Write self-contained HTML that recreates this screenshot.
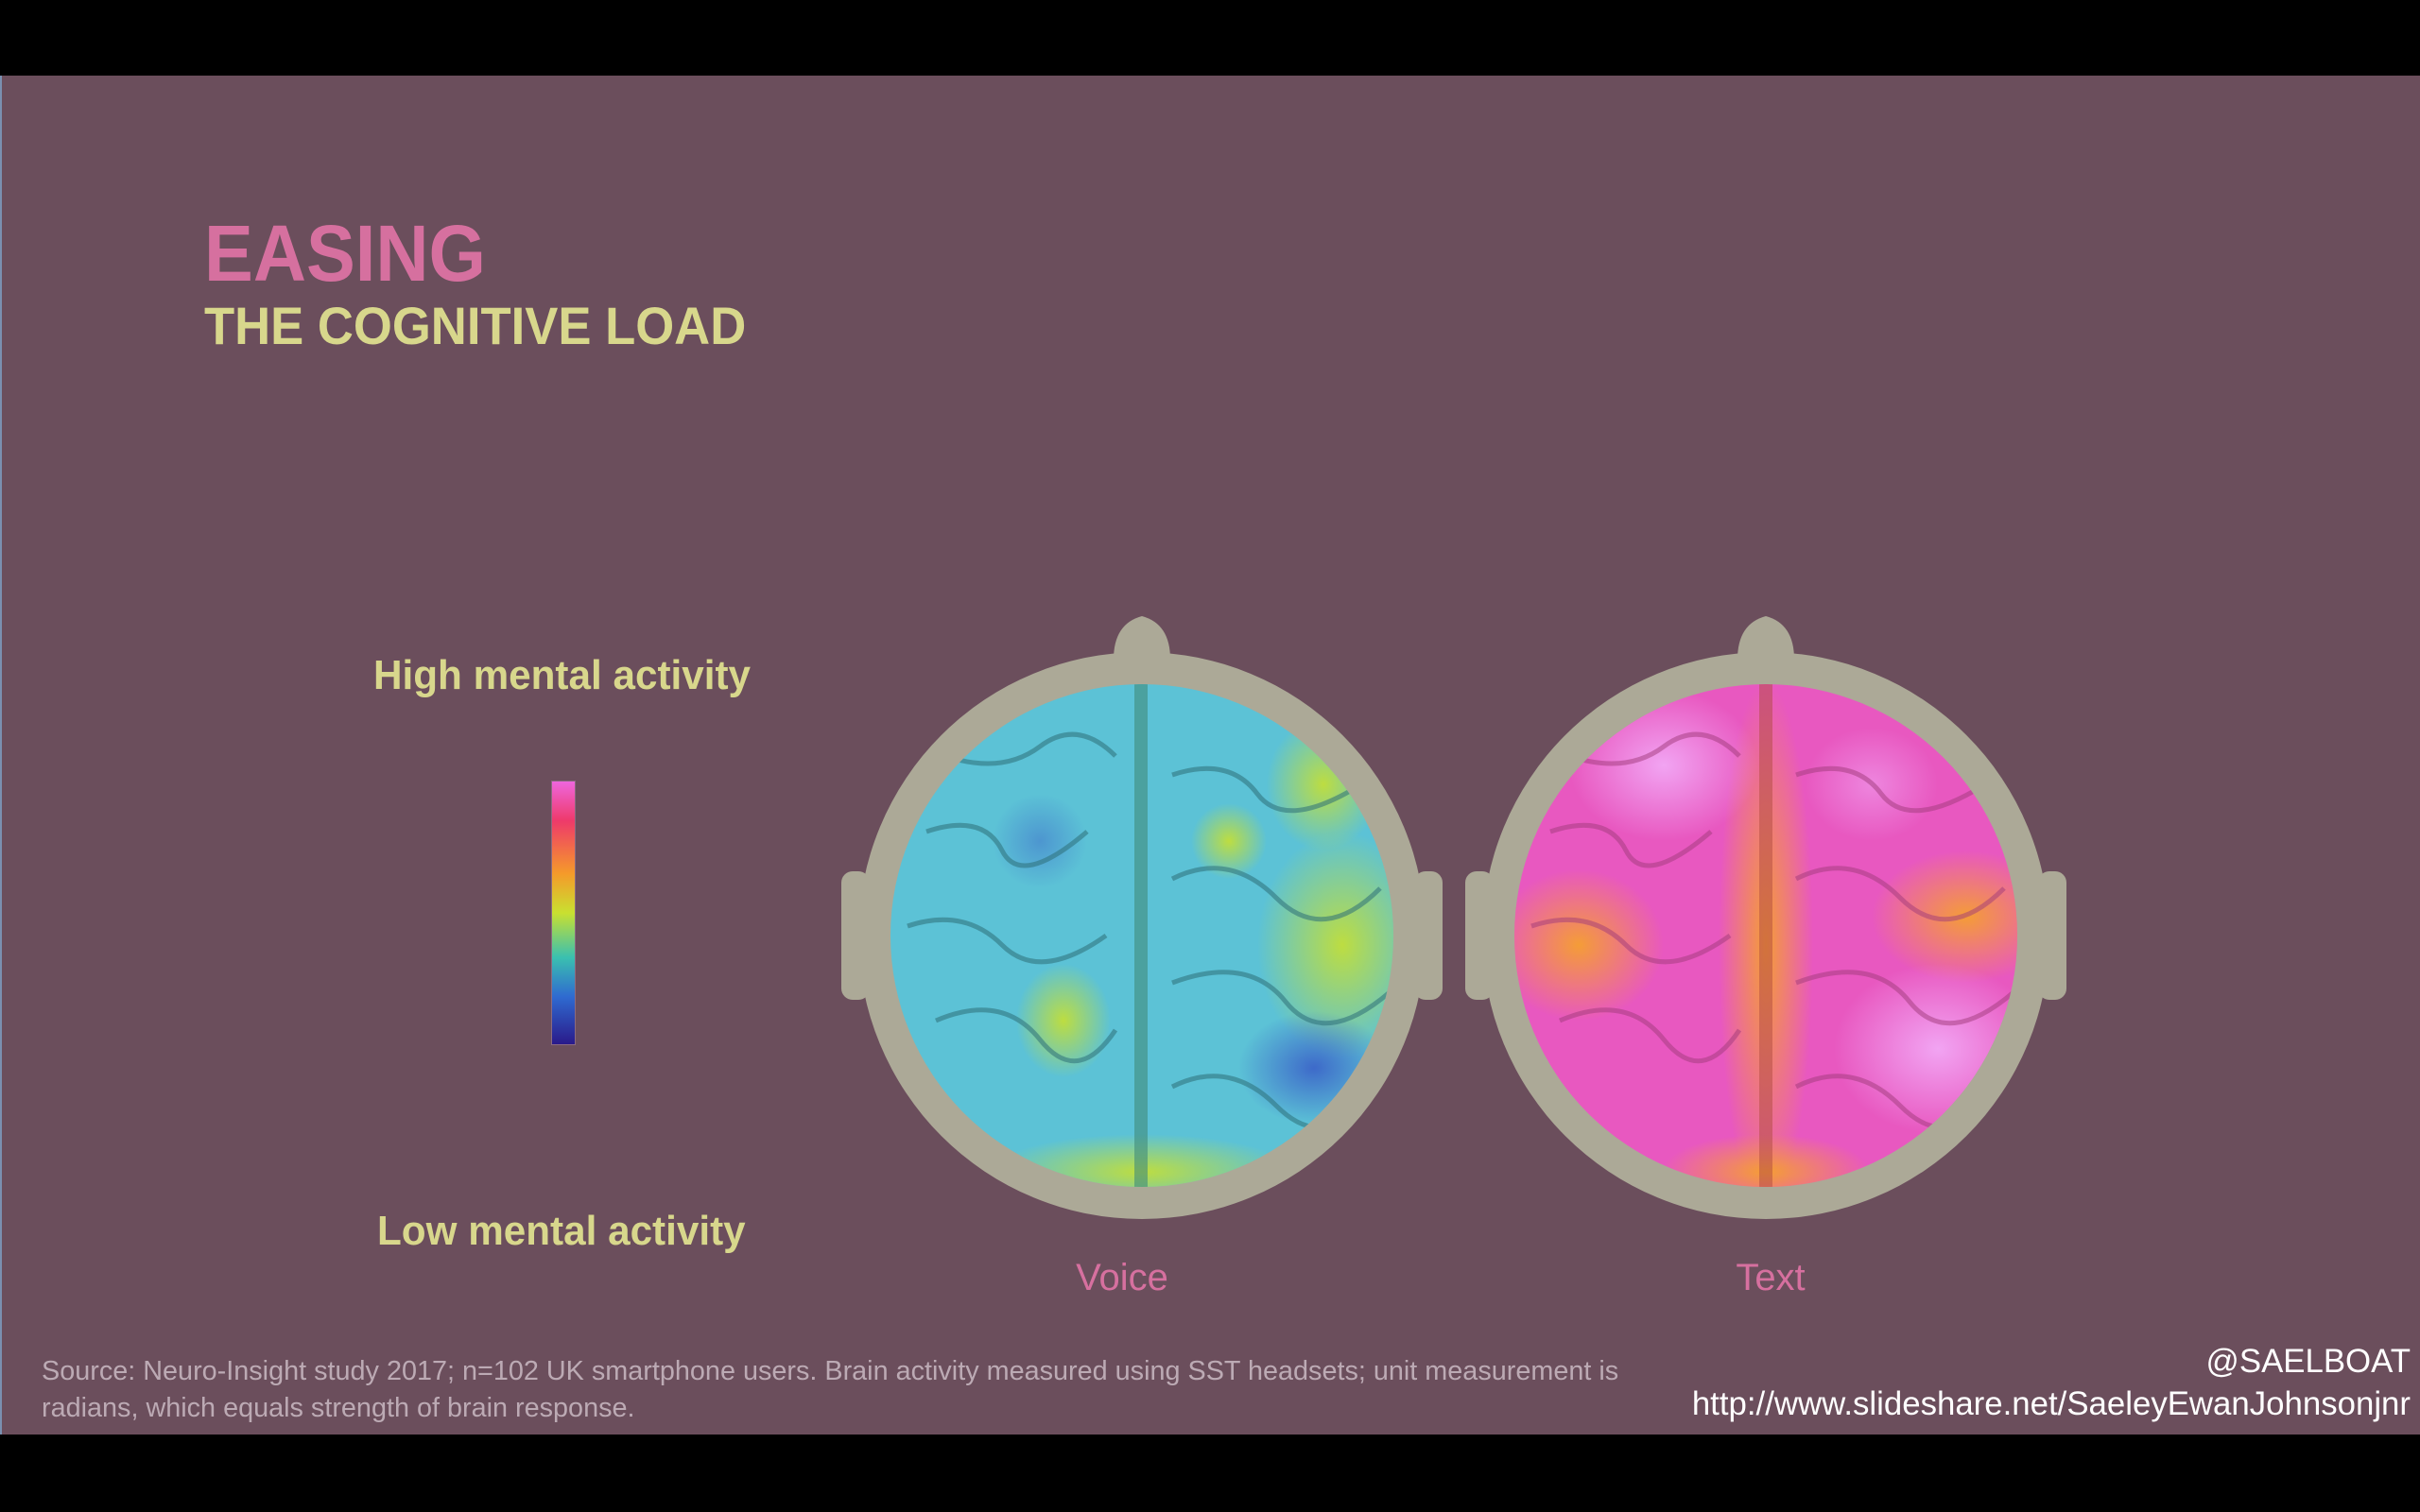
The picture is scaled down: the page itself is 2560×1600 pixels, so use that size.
<!DOCTYPE html>
<html><head><meta charset="utf-8"><style>
html,body{margin:0;padding:0;width:2560px;height:1600px;background:#000;overflow:hidden;font-family:"Liberation Sans",sans-serif}
.slide{position:absolute;left:0;top:80px;width:2560px;height:1438px;background:#6b4e5c;border-left:2px solid #7a8fb0}
.t{position:absolute;white-space:nowrap;font-weight:bold}
</style></head><body>
<div class="slide"></div>
<div class="t" style="left:216px;top:220px;font-size:84px;color:#d6709f;transform:scaleX(0.925);transform-origin:left">EASING</div>
<div class="t" style="left:216px;top:312px;font-size:56px;color:#d8d78c;transform:scaleX(0.94);transform-origin:left">THE COGNITIVE LOAD</div>
<div class="t" style="left:395px;top:690px;font-size:44px;color:#d8d78c;transform:scaleX(0.96);transform-origin:left">High mental activity</div>
<div class="t" style="left:399px;top:1278px;font-size:44px;color:#d8d78c;transform:scaleX(0.96);transform-origin:left">Low mental activity</div>
<div style="position:absolute;left:583px;top:826px;width:24px;height:278px;border:1px solid #8a6a80;background:linear-gradient(#ee66dd,#ee3a6a 15%,#f59a2a 35%,#c9e030 50%,#3ac0b0 67%,#2f6ad0 82%,#2a1a8a)"></div>
<svg style="position:absolute;left:0;top:0" width="2560" height="1600">
<defs>
<clipPath id="c1"><circle cx="1208" cy="990" r="266"/></clipPath>
<clipPath id="c2"><circle cx="1868" cy="990" r="266"/></clipPath>
<radialGradient id="y1" cx="0.5" cy="0.5" r="0.5"><stop offset="0" stop-color="#c8e030" stop-opacity="0.9"/><stop offset="1" stop-color="#c8e030" stop-opacity="0"/></radialGradient>
<radialGradient id="b1" cx="0.5" cy="0.5" r="0.5"><stop offset="0" stop-color="#3a60c8" stop-opacity="0.9"/><stop offset="1" stop-color="#3a60c8" stop-opacity="0"/></radialGradient>
<radialGradient id="o1" cx="0.5" cy="0.5" r="0.5"><stop offset="0" stop-color="#f5a030" stop-opacity="0.95"/><stop offset="1" stop-color="#f5a030" stop-opacity="0"/></radialGradient>
<radialGradient id="p1" cx="0.5" cy="0.5" r="0.5"><stop offset="0" stop-color="#f2a8f5" stop-opacity="0.95"/><stop offset="1" stop-color="#f2a8f5" stop-opacity="0"/></radialGradient>
<g id="head" fill="#aca997">
<circle cx="0" cy="0" r="300"/>
<path d="M-30 -292 Q-30 -330 0 -338 Q30 -330 30 -292 Z"/>
<rect x="-318" y="-68" width="30" height="136" rx="12"/>
<rect x="288" y="-68" width="30" height="136" rx="12"/>
</g>
</defs>
<use href="#head" x="1208" y="990"/>
<use href="#head" x="1868" y="990"/>
<g clip-path="url(#c1)">
<rect x="940" y="720" width="540" height="540" fill="#5cc2d6"/>
<ellipse cx="1208" cy="1240" rx="160" ry="40" fill="url(#y1)"/>
<ellipse cx="1420" cy="1000" rx="90" ry="120" fill="url(#y1)"/>
<ellipse cx="1400" cy="830" rx="60" ry="70" fill="url(#y1)"/>
<ellipse cx="1125" cy="1080" rx="50" ry="60" fill="url(#y1)"/>
<ellipse cx="1300" cy="890" rx="40" ry="40" fill="url(#y1)"/>
<ellipse cx="1390" cy="1130" rx="80" ry="60" fill="url(#b1)"/>
<ellipse cx="1100" cy="890" rx="50" ry="50" fill="url(#b1)" opacity="0.5"/>
<rect x="1200" y="720" width="14" height="540" fill="#3f8a7a" opacity="0.6"/>
<g fill="none" stroke="#2e6f78" stroke-width="5" opacity="0.55">
<path d="M980 880 Q1040 860 1060 900 T1150 880 M960 980 Q1020 960 1060 1000 T1170 990 M990 1080 Q1060 1050 1100 1100 T1180 1090 M1000 800 Q1060 820 1100 790 T1180 800 M1240 820 Q1300 800 1330 840 T1440 830 M1240 930 Q1300 900 1350 950 T1460 940 M1240 1040 Q1320 1010 1360 1060 T1470 1050 M1240 1150 Q1300 1120 1350 1170 T1440 1160"/>
</g>
</g>
<g clip-path="url(#c2)">
<rect x="1600" y="720" width="540" height="540" fill="#e858c0"/>
<ellipse cx="1868" cy="1000" rx="50" ry="280" fill="url(#o1)"/>
<ellipse cx="1670" cy="1000" rx="90" ry="80" fill="url(#o1)"/>
<ellipse cx="2080" cy="970" rx="100" ry="70" fill="url(#o1)"/>
<ellipse cx="1868" cy="1240" rx="110" ry="40" fill="url(#o1)"/>
<ellipse cx="1760" cy="810" rx="100" ry="80" fill="url(#p1)"/>
<ellipse cx="2050" cy="1110" rx="110" ry="90" fill="url(#p1)"/>
<ellipse cx="1980" cy="830" rx="70" ry="60" fill="url(#p1)" opacity="0.6"/>
<rect x="1861" y="720" width="14" height="540" fill="#b04a40" opacity="0.5"/>
<g fill="none" stroke="#a03a7a" stroke-width="5" opacity="0.5">
<path d="M1640 880 Q1700 860 1720 900 T1810 880 M1620 980 Q1680 960 1720 1000 T1830 990 M1650 1080 Q1720 1050 1760 1100 T1840 1090 M1660 800 Q1720 820 1760 790 T1840 800 M1900 820 Q1960 800 1990 840 T2100 830 M1900 930 Q1960 900 2010 950 T2120 940 M1900 1040 Q1980 1010 2020 1060 T2130 1050 M1900 1150 Q1960 1120 2010 1170 T2100 1160"/>
</g>
</g>
</svg>
<div style="position:absolute;left:1087px;top:1330px;width:200px;text-align:center;font-size:40px;color:#d6709f">Voice</div>
<div style="position:absolute;left:1773px;top:1330px;width:200px;text-align:center;font-size:40px;color:#d6709f">Text</div>
<div style="position:absolute;left:44px;top:1432px;font-size:28.8px;line-height:39px;color:#bcaab4;width:1760px;white-space:nowrap">Source: Neuro-Insight study 2017; n=102 UK smartphone users. Brain activity measured using SST headsets; unit measurement is<br>radians, which equals strength of brain response.</div>
<div style="position:absolute;right:10px;top:1418px;text-align:right;font-size:34.8px;line-height:45px;color:#fff">@SAELBOAT<br>http://www.slideshare.net/SaeleyEwanJohnsonjnr</div>
</body></html>
